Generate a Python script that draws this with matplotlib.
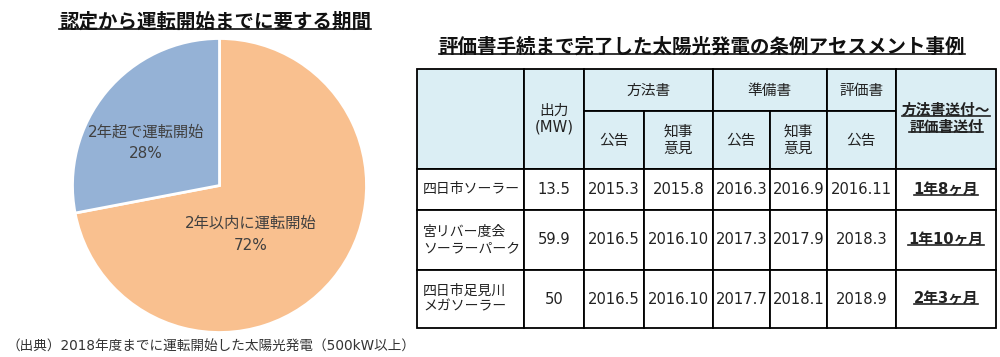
#!/usr/bin/env python3

import matplotlib
matplotlib.use('Agg')
import matplotlib.pyplot as plt
from matplotlib.patches import Rectangle
from matplotlib.lines import Line2D

# Latin glyphs from DejaVu (close to the Meiryo/Verdana look), kana/kanji from Noto
FAMILY = ['DejaVu Sans', 'Noto Sans CJK JP']
CJK = ['Noto Sans CJK JP', 'DejaVu Sans']
plt.rcParams['font.family'] = FAMILY

DPI = 100
W, H = 1000, 357

# pie data
PIE_TITLE = '認定から運転開始までに要する期間'
PIE_LABELS = ['2年以内に運転開始', '2年超で運転開始']
PIE_SHARES = [72, 28]
PIE_COLORS = ['#F9C08F', '#95B2D6']
FOOTNOTE = '（出典）2018年度までに運転開始した太陽光発電（500kW以上）'

# table data
TABLE_TITLE = '評価書手続まで完了した太陽光発電の条例アセスメント事例'
GROUPS = ['方法書', '準備書', '評価書']
SUBHEADS = ['公告', '知事\n意見', '公告', '知事\n意見', '公告']
SITES = ['四日市ソーラー', '宮リバー度会\nソーラーパーク', '四日市足見川\nメガソーラー']
OUTPUT_MW = ['13.5', '59.9', '50']
METHOD_NOTICE = ['2015.3', '2016.5', '2016.5']
METHOD_GOVERNOR = ['2015.8', '2016.10', '2016.10']
PREP_NOTICE = ['2016.3', '2017.3', '2017.7']
PREP_GOVERNOR = ['2016.9', '2017.9', '2018.1']
EVAL_NOTICE = ['2016.11', '2018.3', '2018.9']
DURATION = ['1年8ヶ月', '1年10ヶ月', '2年3ヶ月']

# table layout in pixels
COL_X = [417, 524, 584, 644, 713, 770, 827, 896, 996]
ROW_Y = [69, 111, 169, 210, 270, 328]
HEAD_BG = '#DBEEF4'
TXT = '#222222'
FS = 10.6

fig = plt.figure(figsize=(W / DPI, H / DPI), dpi=DPI)

# ---- pie ----
cx, cy, r = 219.5, 185.5, 147
pie_ax = fig.add_axes([(cx - r) / W, (H - cy - r) / H, 2 * r / W, 2 * r / H])
pie_ax.pie(PIE_SHARES, colors=PIE_COLORS, startangle=90, counterclock=False,
           wedgeprops=dict(edgecolor='white', linewidth=2))
pie_ax.set_xlim(-1, 1)
pie_ax.set_ylim(-1, 1)
label_pos = [(0.21, -0.33), (-0.50, 0.29)]
for lab, share, (lx, ly) in zip(PIE_LABELS, PIE_SHARES, label_pos):
    pie_ax.text(lx, ly, '{}\n{}%'.format(lab, share), ha='center', va='center',
                fontsize=11, color='#404040', linespacing=1.6)

# ---- overlay in pixel coords ----
ax = fig.add_axes([0, 0, 1, 1])
ax.set_xlim(0, W)
ax.set_ylim(H, 0)
ax.axis('off')
ax.patch.set_alpha(0)

underlined = []

t = ax.text(215, 22, PIE_TITLE, ha='center', va='center', fontsize=14,
            fontweight='bold', color='#111111', family=CJK)
underlined.append(t)
t = ax.text(702, 47, TABLE_TITLE, ha='center', va='center', fontsize=14,
            fontweight='bold', color='#111111', family=CJK)
underlined.append(t)
ax.text(6, 347, FOOTNOTE, ha='left', va='center', fontsize=9.8, color='#333333')


def cell(c0, c1, r0, r1, text='', bg='white', ha='center', bold=False, ul=False,
         fs=FS, family=None):
    x0, x1 = COL_X[c0], COL_X[c1]
    y0, y1 = ROW_Y[r0], ROW_Y[r1]
    ax.add_patch(Rectangle((x0, y0), x1 - x0, y1 - y0, facecolor=bg,
                           edgecolor='black', linewidth=1.3))
    if not text:
        return
    tx = (x0 + x1) / 2 if ha == 'center' else x0 + 6
    tt = ax.text(tx, (y0 + y1) / 2, text, ha=ha, va='center', fontsize=fs,
                 color=TXT, fontweight='bold' if bold else 'normal',
                 linespacing=1.15, multialignment=ha,
                 family=family or FAMILY)
    if ul:
        underlined.append(tt)


# header
cell(0, 1, 0, 2, bg=HEAD_BG)
cell(1, 2, 0, 2, '出力\n(MW)', bg=HEAD_BG)
cell(2, 4, 0, 1, GROUPS[0], bg=HEAD_BG)
cell(4, 6, 0, 1, GROUPS[1], bg=HEAD_BG)
cell(6, 7, 0, 1, GROUPS[2], bg=HEAD_BG)
for i, s in enumerate(SUBHEADS):
    cell(2 + i, 3 + i, 1, 2, s, bg=HEAD_BG)
cell(7, 8, 0, 2, '方法書送付～\n評価書送付', bg=HEAD_BG, bold=True, ul=True)

# body
columns = [OUTPUT_MW, METHOD_NOTICE, METHOD_GOVERNOR, PREP_NOTICE,
           PREP_GOVERNOR, EVAL_NOTICE]
for i, site in enumerate(SITES):
    cell(0, 1, 2 + i, 3 + i, site, ha='left', fs=10, family=CJK)
    for j, col in enumerate(columns):
        cell(1 + j, 2 + j, 2 + i, 3 + i, col[i])
    cell(7, 8, 2 + i, 3 + i, DURATION[i], bold=True, ul=True)

# underlines under text (matplotlib has no underline style)
fig.canvas.draw()
renderer = fig.canvas.get_renderer()
inv = ax.transData.inverted()
for tt in underlined:
    lines = tt.get_text().split('\n')
    bb = tt.get_window_extent(renderer)
    (bx0, by0), (bx1, by1) = inv.transform([(bb.x0, bb.y0), (bb.x1, bb.y1)])
    n = len(lines)
    top, bot = min(by0, by1), max(by0, by1)
    step = (bot - top) / n
    for k, ln in enumerate(lines):
        # measure each line separately for its width
        tmp = ax.text(0, 0, ln, fontsize=tt.get_fontsize(),
                      fontweight=tt.get_fontweight(),
                      family=tt.get_fontfamily())
        wpx = tmp.get_window_extent(renderer).width
        tmp.remove()
        mid = (bx0 + bx1) / 2
        yline = top + step * (k + 1) - step * 0.16
        ax.add_line(Line2D([mid - wpx / 2, mid + wpx / 2], [yline, yline],
                           color=tt.get_color(), linewidth=1.2))

fig.savefig('out.png', dpi=DPI)
